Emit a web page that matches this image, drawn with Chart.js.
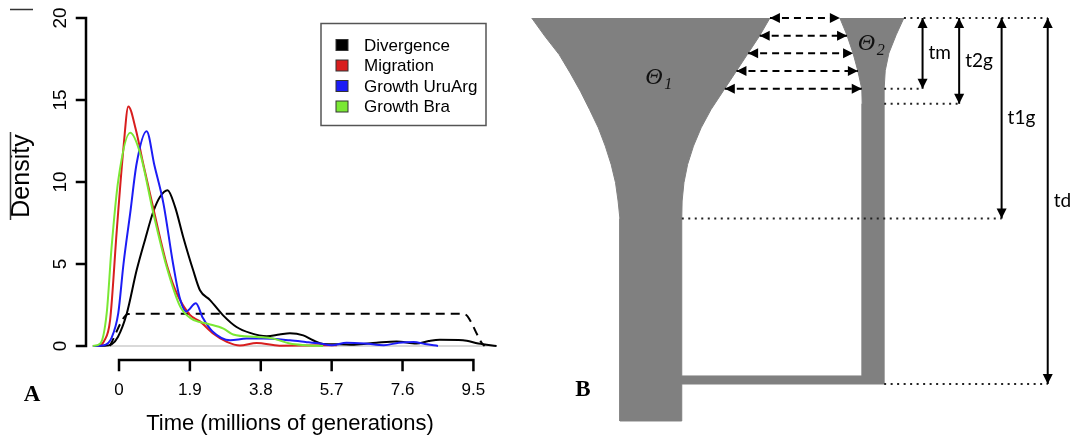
<!DOCTYPE html>
<html>
<head>
<meta charset="utf-8">
<script src="https://cdn.jsdelivr.net/npm/chart.js@4.4.1/dist/chart.umd.min.js"></script>
<style>
  html, body { margin: 0; padding: 0; background: #fff; }
  #wrap { position: relative; width: 1077px; height: 438px; overflow: hidden; }
  #chartA { position: absolute; left: 0; top: 0; }
  #chartB { position: absolute; left: 520px; top: 0; }
</style>
</head>
<body>
<div id="wrap">
  <canvas id="chartA" width="520" height="438"></canvas>
  <canvas id="chartB" width="557" height="438"></canvas>
</div>
<script>
// ---- panel A : densities of the times (millions of generations) ----
const seriesNames = ['Divergence', 'Migration', 'Growth UruArg', 'Growth Bra'];
const seriesColors = ['#000000', '#d81e1e', '#1c1cf5', '#7ae834'];

const divergenceTime = [-0.7, -0.4, -0.2, -0.03, 0.21, 0.47, 0.7, 0.92, 1.1, 1.3, 1.5, 1.72, 1.99, 2.17, 2.44, 2.79, 3.15, 3.51, 3.96, 4.3, 4.58, 4.94, 5.2, 5.47, 5.9, 6.3, 6.9, 7.44, 7.97, 8.3, 8.6, 9.22, 9.63, 10.12];
const divergenceDensity = [0, 0.01, 0.1, 0.55, 2.0, 4.6, 6.5, 8.2, 9.1, 9.5, 8.5, 6.65, 4.6, 3.4, 2.8, 1.87, 1.16, 0.8, 0.6, 0.7, 0.78, 0.65, 0.35, 0.12, 0.1, 0.08, 0.2, 0.28, 0.15, 0.3, 0.38, 0.35, 0.15, 0];

const migrationTime = [-0.7, -0.55, -0.4, -0.24, -0.06, 0.12, 0.25, 0.45, 0.65, 0.9, 1.1, 1.3, 1.55, 1.9, 2.17, 2.53, 2.89, 3.24, 3.69, 4.3, 5.0, 5.84];
const migrationDensity = [0, 0.02, 0.3, 1.56, 7.05, 12.1, 14.6, 13.2, 11.1, 8.6, 6.6, 4.8, 3.2, 1.9, 1.5, 0.75, 0.25, 0.03, 0.18, 0.02, 0.03, 0.05];

const uruargTime = [-0.7, -0.4, -0.2, -0.02, 0.12, 0.3, 0.47, 0.74, 0.95, 1.19, 1.45, 1.62, 1.8, 2.06, 2.25, 2.5, 2.98, 3.42, 3.87, 4.58, 5.0, 5.39, 5.7, 6.1, 6.6, 7.1, 7.5, 7.9, 8.2, 8.55];
const uruargDensity = [0, 0.05, 0.5, 2.0, 5.0, 8.1, 11.1, 13.1, 11.0, 8.7, 5.0, 3.0, 2.1, 2.6, 1.7, 0.9, 0.35, 0.45, 0.45, 0.35, 0.25, 0.15, 0.05, 0.2, 0.15, 0.05, 0.2, 0.25, 0.12, 0];

const braTime = [-0.7, -0.5, -0.33, -0.2, -0.02, 0.3, 0.56, 0.92, 1.28, 1.64, 1.95, 2.35, 2.8, 3.06, 3.69, 4.14, 4.58, 5.0, 5.47];
const braDensity = [0, 0.15, 2.0, 6.0, 10.1, 13.0, 11.8, 8.1, 4.8, 2.4, 1.65, 1.37, 1.06, 0.7, 0.55, 0.45, 0.15, 0.05, 0];

// prior (dashed)
const priorTime = [-0.25, 0.25, 0.5, 9.1, 9.3, 9.45, 9.6, 9.72, 9.8];
const priorDensity = [0, 1.95, 1.97, 1.97, 1.9, 1.4, 0.7, 0.2, 0];

const zeroTime = [-0.7, 10.12];
const zeroDensity = [0, 0];

const xTicks = [0, 1.9, 3.8, 5.7, 7.6, 9.5];
const yTicks = [0, 5, 10, 15, 20];

// ---- panel B : model diagram (time runs downwards) ----
const pop1Time = [0, 0.5, 1, 1.5, 2, 2.5, 3, 3.5, 4, 4.5, 5, 5.48];
const pop1LeftEdge = [0.32, 0.68, 1.07, 1.37, 1.65, 1.90, 2.14, 2.33, 2.49, 2.61, 2.68, 2.73];
const pop1RightEdge = [6.83, 6.54, 6.21, 5.88, 5.55, 5.22, 4.95, 4.74, 4.58, 4.48, 4.43, 4.42];
const pop2Time = [0, 0.46, 0.96, 1.44, 1.94, 2.34];
const pop2LeftEdge = [8.74, 8.93, 9.10, 9.23, 9.34, 9.35];
const pop2RightEdge = [10.49, 10.28, 10.08, 9.98, 9.95, 9.95];
const eventNames = ['tm', 't2g', 't1g', 'td'];
const eventTimes = [1.93, 2.34, 5.48, 10];
const rootTime = 11.01;
const barTop = 9.78;
const migrationRows = 5;

function pairs(xs, ys) {
  return xs.map((x, i) => ({ x: x, y: ys[i] }));
}

function interp(ts, xs, t) {
  for (let i = 1; i < ts.length; i++) {
    if (t <= ts[i]) {
      const f = (t - ts[i - 1]) / (ts[i] - ts[i - 1]);
      return xs[i - 1] + f * (xs[i] - xs[i - 1]);
    }
  }
  return xs[xs.length - 1];
}

// chart A
const axesA = {
  id: 'axesA',
  afterDraw(chart) {
    const ctx = chart.ctx, xs = chart.scales.x, ys = chart.scales.y;
    const ax = chart.chartArea.left;
    const ay = chart.chartArea.bottom + 14;
    ctx.save();
    ctx.strokeStyle = '#000';
    ctx.fillStyle = '#000';
    ctx.lineWidth = 2.5;
    ctx.lineCap = 'square';

    // y axis
    ctx.beginPath();
    ctx.moveTo(ax, ys.getPixelForValue(yTicks[0]));
    ctx.lineTo(ax, ys.getPixelForValue(yTicks[yTicks.length - 1]));
    yTicks.forEach(v => {
      const py = ys.getPixelForValue(v);
      ctx.moveTo(ax, py);
      ctx.lineTo(ax - 9, py);
    });
    ctx.stroke();
    ctx.font = '19px "Liberation Sans", Arial, sans-serif';
    ctx.textAlign = 'center';
    ctx.textBaseline = 'middle';
    yTicks.forEach(v => {
      ctx.save();
      ctx.translate(61, ys.getPixelForValue(v));
      ctx.rotate(-Math.PI / 2);
      ctx.fillText(String(v), 0, 0);
      ctx.restore();
    });

    // x axis
    ctx.beginPath();
    ctx.moveTo(xs.getPixelForValue(xTicks[0]), ay);
    ctx.lineTo(xs.getPixelForValue(xTicks[xTicks.length - 1]), ay);
    xTicks.forEach(v => {
      const px = xs.getPixelForValue(v);
      ctx.moveTo(px, ay);
      ctx.lineTo(px, ay + 10);
    });
    ctx.stroke();
    ctx.font = '17px "Liberation Sans", Arial, sans-serif';
    xTicks.forEach(v => {
      ctx.fillText(String(v), xs.getPixelForValue(v), 390);
    });

    // axis titles
    ctx.font = '22px "Liberation Sans", Arial, sans-serif';
    ctx.fillText('Time (millions of generations)', 290, 424);
    ctx.save();
    ctx.translate(22, 176);
    ctx.rotate(-Math.PI / 2);
    ctx.font = '25px "Liberation Sans", Arial, sans-serif';
    ctx.fillText('Density', 0, 0);
    ctx.restore();
    ctx.lineWidth = 1.5;
    ctx.lineCap = 'butt';
    ctx.strokeStyle = '#333';
    ctx.beginPath();
    ctx.moveTo(10, 9.5); ctx.lineTo(33, 9.5);
    ctx.moveTo(10.5, 132); ctx.lineTo(10.5, 220);
    ctx.stroke();

    // legend
    ctx.strokeStyle = '#555';
    ctx.lineWidth = 1.5;
    ctx.strokeRect(321, 23.5, 165, 102);
    ctx.font = '17px "Liberation Sans", Arial, sans-serif';
    ctx.textAlign = 'left';
    const rows = [45, 65.5, 86, 106.5];
    chart.data.datasets.filter(d => d.label).forEach((d, i) => {
      ctx.fillStyle = d.borderColor;
      ctx.fillRect(336, rows[i] - 5.5, 12, 11);
      ctx.strokeStyle = '#333';
      ctx.lineWidth = 1;
      ctx.strokeRect(336, rows[i] - 5.5, 12, 11);
      ctx.fillStyle = '#000';
      ctx.fillText(d.label, 364, rows[i] + 1);
    });

    // panel letter
    ctx.font = 'bold 23px "Liberation Serif", "Times New Roman", serif';
    ctx.textAlign = 'center';
    ctx.fillText('A', 32, 395);
    ctx.restore();
  }
};

const seriesTimes = [divergenceTime, migrationTime, uruargTime, braTime];
const seriesDensities = [divergenceDensity, migrationDensity, uruargDensity, braDensity];

const datasetsA = seriesNames.map((name, i) => ({
  label: name,
  data: pairs(seriesTimes[i], seriesDensities[i]),
  borderColor: seriesColors[i],
  borderWidth: 2,
  order: 4 - i
}));
datasetsA.push({
  data: pairs(priorTime, priorDensity),
  borderColor: '#000',
  borderWidth: 2,
  borderDash: [9, 6],
  order: 5
});
datasetsA.push({
  data: pairs(zeroTime, zeroDensity),
  borderColor: '#cccccc',
  borderWidth: 1.5,
  order: 10
});

new Chart(document.getElementById('chartA').getContext('2d'), {
  type: 'line',
  data: { datasets: datasetsA },
  options: {
    responsive: false,
    animation: false,
    layout: { padding: { left: 86, right: 13, top: 18, bottom: 92 } },
    datasets: {
      line: { pointRadius: 0, fill: false, clip: false, cubicInterpolationMode: 'monotone' }
    },
    scales: {
      x: { type: 'linear', min: -0.885, max: 10.4, display: false },
      y: { type: 'linear', min: 0, max: 20, display: false }
    },
    plugins: { legend: { display: false }, tooltip: { enabled: false } }
  },
  plugins: [axesA]
});

// chart B
const pop1Shape = pairs(pop1LeftEdge, pop1Time)
  .concat([{ x: pop1LeftEdge[pop1LeftEdge.length - 1], y: rootTime },
           { x: pop1RightEdge[pop1RightEdge.length - 1], y: rootTime }])
  .concat(pairs(pop1RightEdge, pop1Time).reverse());

const stem1Right = pop1RightEdge[pop1RightEdge.length - 1];
const stem2Left = pop2LeftEdge[pop2LeftEdge.length - 1];
const stem2Right = pop2RightEdge[pop2RightEdge.length - 1];
const tdTime = eventTimes[3];
const pop2Shape = pairs(pop2LeftEdge, pop2Time)
  .concat([{ x: stem2Left, y: barTop }, { x: stem1Right, y: barTop },
           { x: stem1Right, y: tdTime }, { x: stem2Right, y: tdTime }])
  .concat(pairs(pop2RightEdge, pop2Time).reverse());

const datasetsB = [
  { data: pop1Shape, fill: 'shape', backgroundColor: '#808080', borderColor: '#808080', borderWidth: 1, order: 3 },
  { data: pop2Shape, fill: 'shape', backgroundColor: '#808080', borderColor: '#808080', borderWidth: 1, order: 3 }
];

// migration arrows between the two populations
const tm = eventTimes[0];
for (let k = 0; k < migrationRows; k++) {
  const t = tm * k / (migrationRows - 1);
  datasetsB.push({
    data: [{ x: interp(pop1Time, pop1RightEdge, t), y: t }, { x: interp(pop2Time, pop2LeftEdge, t), y: t }],
    borderColor: '#000', borderWidth: 2, borderDash: [7, 5],
    arrowHeads: true, order: 1
  });
}

// event arrows and dotted guides
const arrowColumn = [11.0, 12.0, 13.16, 14.42];
const guideStart = [stem2Right, stem2Right, stem1Right, stem2Right];
datasetsB.push({
  data: [{ x: pop2RightEdge[0], y: 0 }, { x: arrowColumn[3], y: 0 }],
  borderColor: '#222', borderWidth: 2, borderDash: [2, 4.5], order: 2
});
eventTimes.forEach((t, i) => {
  datasetsB.push({
    data: [{ x: guideStart[i], y: t }, { x: arrowColumn[i], y: t }],
    borderColor: '#222', borderWidth: 2, borderDash: [2, 4.5], order: 2
  });
  datasetsB.push({
    data: [{ x: arrowColumn[i], y: 0 }, { x: arrowColumn[i], y: t }],
    borderColor: '#000', borderWidth: 2, arrowHeads: true, order: 1
  });
});

const arrowsB = {
  id: 'arrowsB',
  afterDatasetsDraw(chart) {
    const ctx = chart.ctx;
    ctx.save();
    ctx.fillStyle = '#000';
    chart.data.datasets.forEach((ds, i) => {
      if (!ds.arrowHeads) return;
      const pts = chart.getDatasetMeta(i).data;
      const a = pts[0], b = pts[pts.length - 1];
      [[a, b], [b, a]].forEach(([p, q]) => {
        const dx = p.x - q.x, dy = p.y - q.y;
        const len = Math.hypot(dx, dy);
        const ux = dx / len, uy = dy / len;
        const bx = p.x - ux * 10, by = p.y - uy * 10;
        ctx.beginPath();
        ctx.moveTo(p.x, p.y);
        ctx.lineTo(bx - uy * 5, by + ux * 5);
        ctx.lineTo(bx + uy * 5, by - ux * 5);
        ctx.closePath();
        ctx.fill();
      });
    });
    ctx.restore();
  },
  afterDraw(chart) {
    const ctx = chart.ctx, xs = chart.scales.x, ys = chart.scales.y;
    ctx.save();
    ctx.fillStyle = '#000';
    ctx.textBaseline = 'middle';
    ctx.textAlign = 'left';
    ctx.font = '19px Lato, "Open Sans", sans-serif';
    eventNames.forEach((name, i) => {
      ctx.fillText(name, xs.getPixelForValue(arrowColumn[i]) + 6, ys.getPixelForValue(eventTimes[i] / 2));
    });
    // population sizes
    ctx.fillStyle = '#111';
    ctx.font = 'italic 24px "Liberation Serif", "DejaVu Serif", serif';
    ctx.fillText('\u0398', xs.getPixelForValue(3.42), ys.getPixelForValue(1.64));
    ctx.fillText('\u0398', xs.getPixelForValue(9.23), ys.getPixelForValue(0.71));
    ctx.font = 'italic 16px "Liberation Serif", "DejaVu Serif", serif';
    ctx.fillText('1', xs.getPixelForValue(3.42) + 19, ys.getPixelForValue(1.64) + 7);
    ctx.fillText('2', xs.getPixelForValue(9.23) + 19, ys.getPixelForValue(0.71) + 7);
    // panel letter
    ctx.fillStyle = '#000';
    ctx.font = 'bold 23px "Liberation Serif", "Times New Roman", serif';
    ctx.textAlign = 'center';
    ctx.fillText('B', 63, 390);
    ctx.restore();
  }
};

new Chart(document.getElementById('chartB').getContext('2d'), {
  type: 'line',
  data: { datasets: datasetsB },
  options: {
    responsive: false,
    animation: false,
    layout: { padding: 0 },
    datasets: { line: { pointRadius: 0, tension: 0, clip: false, fill: false } },
    scales: {
      x: { type: 'linear', min: 0, max: 15.22, display: false },
      y: { type: 'linear', reverse: true, min: -0.492, max: 11.475, display: false }
    },
    plugins: { legend: { display: false }, tooltip: { enabled: false } }
  },
  plugins: [arrowsB]
});
</script>
</body>
</html>
